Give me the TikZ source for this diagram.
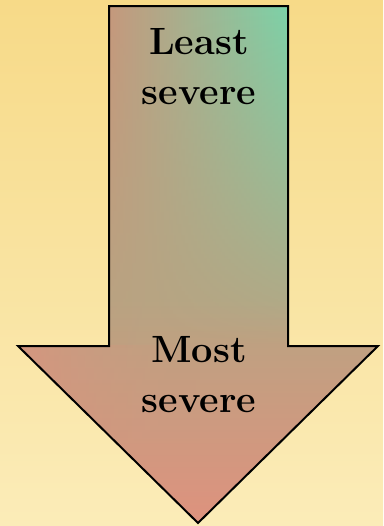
\documentclass[tikz,border=0pt]{standalone}
\usepackage{tikz}
\usetikzlibrary{fadings}
\definecolor{bgtop}{RGB}{247, 218, 136}
\definecolor{bgbottom}{RGB}{251, 236, 184}
\definecolor{arrowbrown}{RGB}{198, 152, 124}
\definecolor{arrowmid}{RGB}{184, 164, 130}
\definecolor{arrowgreen}{RGB}{124, 210, 168}
\definecolor{arrowred}{RGB}{222, 146, 126}

\begin{document}
\begin{tikzpicture}[x=0.75pt, y=-0.75pt,
    label/.style={font=\bfseries\fontsize{28.5}{37.5}\selectfont, align=center, inner sep=0pt}]
  % Background
  \shade[top color=bgtop, bottom color=bgbottom] (0, 0) rectangle (383, 526);
  \useasboundingbox (0, 0) rectangle (383, 526);

  % Arrow body
  \begin{scope}
    \clip (109, 6) -- (288, 6) -- (288, 346) -- (378, 346) -- (198, 523)
      -- (18, 346) -- (109, 346) -- cycle;
    \fill[arrowmid] (18, 6) rectangle (378, 300);
    \shade[top color=arrowmid, bottom color=arrowred] (18, 299) rectangle (378, 523);
    \shade[left color=arrowbrown, right color=arrowgreen, path fading=south]
      (109, 6) rectangle (288, 347);
    \shade[left color=arrowred, right color=arrowred!40!arrowmid, path fading=east, opacity=0.7]
      (18, 346) rectangle (200, 440);
  \end{scope}
  \draw[line width=1.5pt, line join=miter] (109, 6) -- (288, 6) -- (288, 346) -- (378, 346)
    -- (198, 523) -- (18, 346) -- (109, 346) -- cycle;

  % Labels
  \node[label] (least) at (199, 67) {Least\\severe};
  \node[label] (most) at (199, 374.5) {Most\\severe};
\end{tikzpicture}
\end{document}
